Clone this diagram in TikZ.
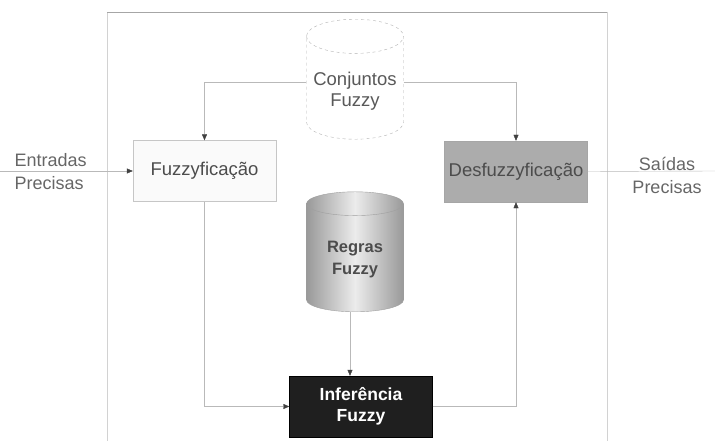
\documentclass[tikz,border=0pt]{standalone}
\usepackage{fontspec}
\setmainfont{Liberation Sans}
\usetikzlibrary{shapes.geometric,arrows.meta}
\tikzset{
  fbox/.style={rectangle,draw=gray!45,minimum width=143pt,minimum height=61pt,
    font=\fontsize{18.5}{22}\selectfont,text=black!70},
  fbase/.style={cylinder,shape border rotate=90,aspect=0.38,minimum width=97pt,
    minimum height=120pt,align=center,font=\fontsize{18.5}{21}\selectfont},
  flink/.style={draw=gray!55,-{Triangle[length=6pt,width=5pt,color=black!75]}},
  flabel/.style={font=\fontsize{18}{23}\selectfont,text=black!60,align=center}
}
\begin{document}
\begin{tikzpicture}[x=1pt,y=-1pt]
\useasboundingbox (0,0) rectangle (715,441);
\draw[gray!35] (107,441) -- (107,12);
\draw[gray!35] (607,12) -- (607,441);
\draw[gray!70] (107,12) -- (607,12);

\node[fbase,draw=gray!60,dashed,fill=white,text=black!65] (conj) at (355,91) {Conjuntos\\Fuzzy};
\node[fbase,draw=gray!75,left color=gray!80,right color=gray!80,middle color=gray!15,
  text=black!70,font=\fontsize{16.5}{22}\selectfont\bfseries] (regras) at (355,260) {Regras\\Fuzzy};
\node[fbox,fill=gray!4] (fuzz) at (204.5,171) {Fuzzyficação};
\node[fbox,fill=gray!65,draw=gray!70] (desf) at (516,171.5) {Desfuzzyficação};
\node[fbox,fill=black!88,draw=black,text=white,align=center,
  font=\fontsize{17.5}{21}\selectfont\bfseries] (inf) at (361,406.5) {Inferência\\Fuzzy};

\coordinate (ent) at (0,171);
\coordinate (sai) at (715,171);
\node[flabel,align=left,anchor=west] (entlab) at (11,171.5) {Entradas\\Precisas};
\node[flabel] (sailab) at (667,175) {Saídas\\Precisas};

\draw[flink] (ent) -- (fuzz.west);
\draw[draw=gray!55] (desf.east) -- (sai);
\draw[flink] ([yshift=9pt]conj.west) -| (fuzz.north);
\draw[flink] ([yshift=9pt]conj.east) -| (desf.north);
\draw[flink] (fuzz.south) |- (inf.west);
\draw[flink] ([xshift=-5pt]regras.south) -- ([xshift=-5pt]regras.south |- inf.north);
\draw[flink] (inf.east) -| (desf.south);

\end{tikzpicture}
\end{document}
